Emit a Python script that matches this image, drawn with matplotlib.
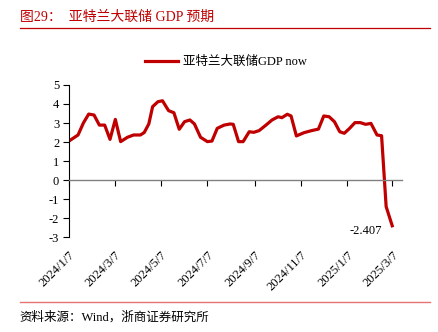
import matplotlib
matplotlib.use('Agg')
import matplotlib.pyplot as plt
import pandas as pd

plt.rcParams['font.family'] = ['Liberation Serif', 'Noto Sans CJK SC']
plt.rcParams['axes.unicode_minus'] = False

dates = ['2024-01-07', '2024-01-19', '2024-01-26', '2024-02-02', '2024-02-09', '2024-02-16',
         '2024-02-23', '2024-03-01', '2024-03-08', '2024-03-15', '2024-03-24', '2024-04-01',
         '2024-04-10', '2024-04-15', '2024-04-21', '2024-04-26', '2024-05-03', '2024-05-09',
         '2024-05-17', '2024-05-24', '2024-05-31', '2024-06-07', '2024-06-14', '2024-06-20',
         '2024-06-28', '2024-07-07', '2024-07-13', '2024-07-20', '2024-07-29', '2024-08-06',
         '2024-08-10', '2024-08-17', '2024-08-23', '2024-08-31', '2024-09-06', '2024-09-13',
         '2024-09-22', '2024-09-30', '2024-10-08', '2024-10-13', '2024-10-20', '2024-10-25',
         '2024-11-01', '2024-11-11', '2024-11-21', '2024-11-30', '2024-12-07', '2024-12-14',
         '2024-12-21', '2024-12-28', '2025-01-03', '2025-01-10', '2025-01-17', '2025-01-24',
         '2025-01-31', '2025-02-07', '2025-02-15', '2025-02-21', '2025-02-27', '2025-03-07']
gdpnow = [2.05, 2.37, 3.0, 3.47, 3.42, 2.89,
          2.89, 2.14, 3.19, 2.02, 2.25, 2.37,
          2.37, 2.5, 2.95, 3.86, 4.12, 4.17,
          3.65, 3.54, 2.67, 3.07, 3.16, 2.95,
          2.25, 2.02, 2.05, 2.72, 2.89, 2.95,
          2.93, 2.02, 2.02, 2.54, 2.51, 2.6,
          2.89, 3.16, 3.33, 3.28, 3.46, 3.37,
          2.32, 2.49, 2.6, 2.68, 3.37, 3.33,
          3.07, 2.54, 2.46, 2.72, 3.02, 3.02,
          2.93, 2.98, 2.37, 2.33, -1.4, -2.407]
tick_dates = ['2024-01-07', '2024-03-07', '2024-05-07', '2024-07-07',
              '2024-09-07', '2024-11-07', '2025-01-07', '2025-03-07']
tick_labels = ['2024/1/7', '2024/3/7', '2024/5/7', '2024/7/7',
               '2024/9/7', '2024/11/7', '2025/1/7', '2025/3/7']

x = pd.to_datetime(dates)
red = '#C00000'

fig = plt.figure(figsize=(4.39, 3.32), dpi=100)
ax = fig.add_axes([0.157, 0.286, 0.759, 0.458])
ax.plot(x, gdpnow, color=red, lw=2.3, label='亚特兰大联储GDP now', solid_joinstyle='round')

ax.set_ylim(-3, 5)
ax.set_yticks(range(-3, 6))
ax.set_xlim(pd.Timestamp('2024-01-07'), pd.Timestamp('2025-03-20'))
ax.set_xticks(pd.to_datetime(tick_dates))
ax.set_xticklabels(tick_labels)

for s in ['top', 'right']:
    ax.spines[s].set_visible(False)
ax.spines['bottom'].set_position(('data', 0))
ax.spines['bottom'].set_color('#808080')
ax.spines['bottom'].set_linewidth(1.0)
ax.spines['left'].set_color('black')
ax.spines['left'].set_linewidth(0.8)
ax.tick_params(axis='y', length=4, width=0.8, labelsize=9, pad=3)
ax.tick_params(axis='x', length=4, width=0.8, labelsize=9, pad=46)
plt.setp(ax.get_xticklabels(), rotation=45, ha='right', rotation_mode='anchor')

ax.annotate('%.3f' % gdpnow[-1], (x[-1], gdpnow[-1]), xytext=(-19, -4),
            textcoords='offset points', ha='center', va='center', fontsize=9)

ax.legend(loc='center', bbox_to_anchor=(0.515, 0.813), bbox_transform=fig.transFigure,
          frameon=False, fontsize=9, handlelength=2.6, handletextpad=0.4)

fig.text(0.045, 0.948, '图29：  亚特兰大联储 GDP 预期', color=red, fontsize=10, va='center')
fig.add_artist(plt.Line2D([0.045, 0.98], [0.915, 0.915], color=red, lw=0.9))
fig.add_artist(plt.Line2D([0.045, 0.98], [0.09, 0.09], color='#E57373', lw=1.0))
fig.text(0.045, 0.045, '资料来源：Wind，浙商证券研究所', fontsize=9, va='center')

fig.savefig('out.png', dpi=100)
